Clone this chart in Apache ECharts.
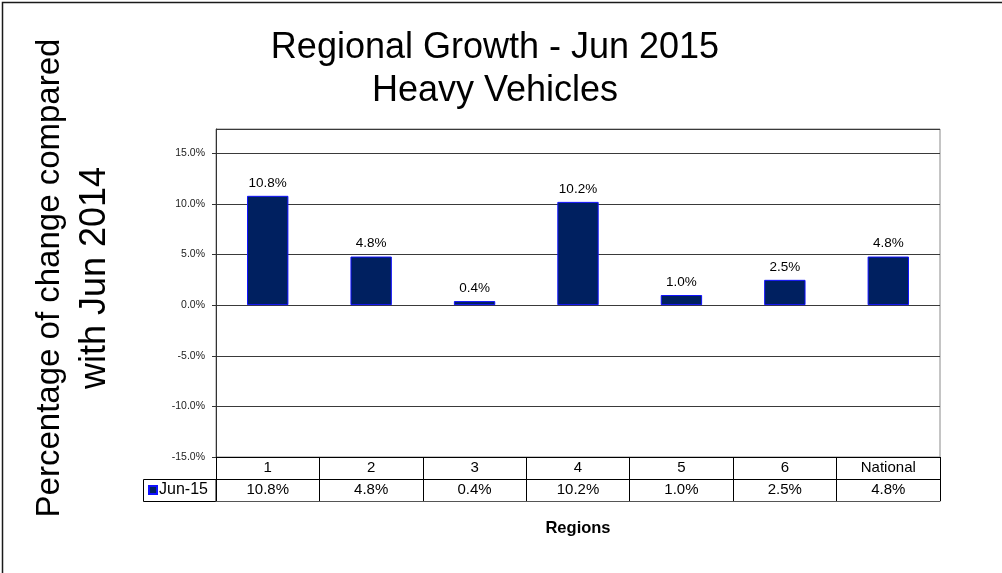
<!DOCTYPE html>
<html>
<head>
<meta charset="utf-8">
<script src="https://cdn.jsdelivr.net/npm/echarts@6/dist/echarts.min.js"></script>
<style>
html,body{margin:0;padding:0;background:#fff;}
#c{width:1002px;height:573px;}
</style>
</head>
<body>
<div id="c"></div>
<script>
const categories = ['1', '2', '3', '4', '5', '6', 'National'];
const seriesName = 'Jun-15';
const values = [10.8, 4.8, 0.4, 10.2, 1.0, 2.5, 4.8];
const yMin = -15, yMax = 17.4, yStep = 5;
const titleLines = ['Regional Growth - Jun 2015', 'Heavy Vehicles'];
const yTitleLines = ['Percentage of change compared', 'with Jun 2014'];
const xTitle = 'Regions';

const FONT = 'Arial, "Liberation Sans", sans-serif';
const fmt = v => v.toFixed(1) + '%';

const chart = echarts.init(document.getElementById('c'), null, {renderer: 'canvas'});
chart.setOption({
  animation: false,
  backgroundColor: '#fff',
  textStyle: {fontFamily: FONT},
  title: {
    text: titleLines.join('\n'),
    left: 490, top: 22, textAlign: 'center',
    textStyle: {fontFamily: FONT, fontSize: 36, fontWeight: 'normal', color: '#000', lineHeight: 43}
  },
  legend: {
    data: [seriesName],
    left: 148, top: 482,
    itemWidth: 8, itemHeight: 8, itemGap: 0, padding: 0,
    icon: 'rect',
    textStyle: {fontFamily: FONT, fontSize: 16, color: '#000', padding: [0, 0, 0, -3]}
  },
  grid: {
    left: 216, right: 62, top: 129, bottom: 116,
    show: true, borderColor: '#8a8a8a', borderWidth: 1, backgroundColor: 'transparent'
  },
  xAxis: [
    {
      type: 'category', data: categories, position: 'bottom',
      axisLine: {onZero: false, lineStyle: {color: '#000', width: 1}},
      axisTick: {show: true, length: 22, interval: 0, lineStyle: {color: '#000'}},
      axisLabel: {margin: 3, fontSize: 15, color: '#000', fontFamily: FONT, interval: 0},
      splitLine: {show: false}
    },
    {
      type: 'category', data: values.map(fmt), position: 'bottom', offset: 22,
      axisLine: {onZero: false, lineStyle: {color: '#000', width: 1}},
      axisTick: {show: true, length: 22, interval: 0, lineStyle: {color: '#000'}},
      axisLabel: {margin: 3, fontSize: 15, color: '#000', fontFamily: FONT, interval: 0},
      splitLine: {show: false}
    },
    {
      type: 'category', data: categories, position: 'bottom', offset: 44,
      axisLine: {onZero: false, lineStyle: {color: '#555', width: 1}},
      axisTick: {show: false}, axisLabel: {show: false}, splitLine: {show: false}
    }
  ],
  yAxis: {
    type: 'value', min: yMin, max: yMax, interval: yStep,
    axisLine: {show: true, lineStyle: {color: '#333', width: 1}},
    axisTick: {show: true, length: 4, lineStyle: {color: '#333'}},
    axisLabel: {formatter: fmt, fontSize: 10.5, color: '#222', margin: 11, showMaxLabel: false, fontFamily: FONT},
    splitLine: {show: true, lineStyle: {color: '#3a3a3a', width: 1}}
  },
  series: [{
    name: seriesName, type: 'bar', data: values, xAxisIndex: 0,
    barWidth: '40%',
    itemStyle: {color: '#002060', borderColor: '#1010ff', borderWidth: 1},
    label: {show: true, position: 'top', distance: 6, formatter: p => fmt(p.value),
      fontSize: 13.5, color: '#000', fontFamily: FONT}
  }],
  graphic: [
    {type: 'rect', shape: {x: 2.5, y: 2.5, width: 1100, height: 700},
     style: {fill: 'none', stroke: '#1a1a1a', lineWidth: 1.5}, silent: true},
    {type: 'rect', shape: {x: 143.5, y: 479.5, width: 72.5, height: 22},
     style: {fill: 'none', stroke: '#000', lineWidth: 1}, silent: true},
    {type: 'text', x: 50, y: 278, rotation: Math.PI / 2,
     style: {text: yTitleLines[0], font: '33px ' + FONT, fill: '#000',
       textAlign: 'center', textVerticalAlign: 'middle'}},
    {type: 'text', x: 95, y: 278, rotation: Math.PI / 2,
     style: {text: yTitleLines[1], font: '36px ' + FONT, fill: '#000',
       textAlign: 'center', textVerticalAlign: 'middle'}},
    {type: 'text', x: 578, y: 528,
     style: {text: xTitle, font: 'bold 16.5px ' + FONT, fill: '#000',
       textAlign: 'center', textVerticalAlign: 'middle'}}
  ]
});
</script>
</body>
</html>
